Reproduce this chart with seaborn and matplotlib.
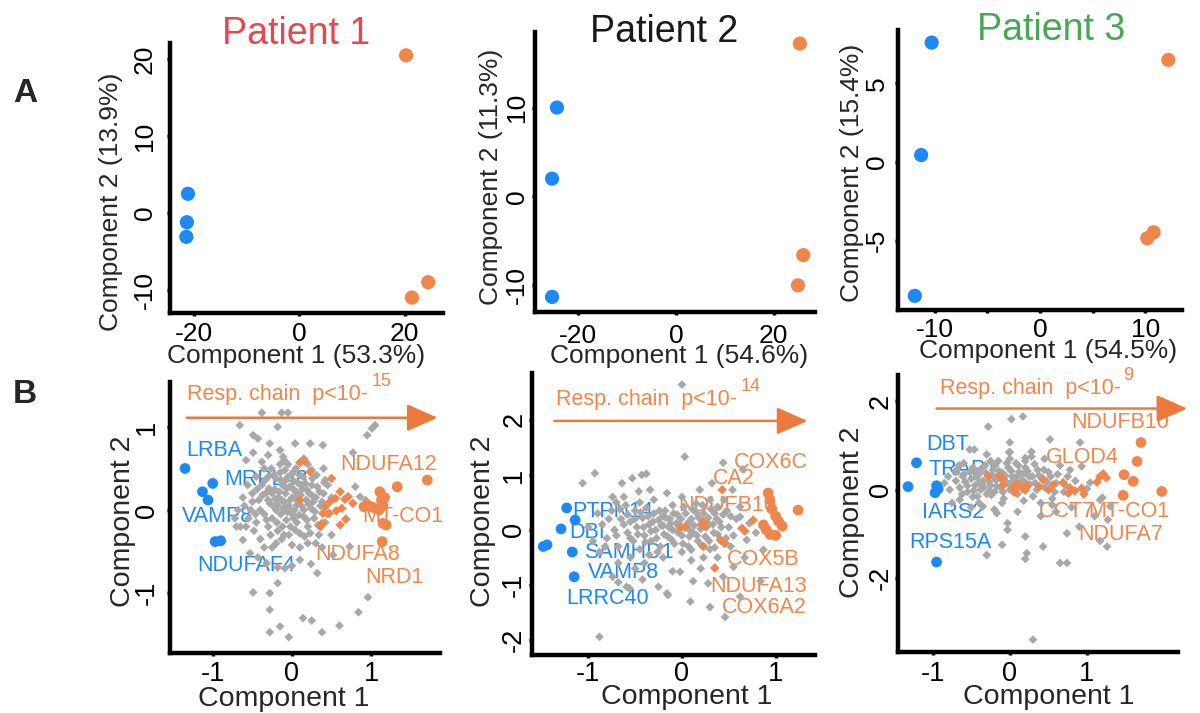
import matplotlib
matplotlib.use('Agg')
import matplotlib.pyplot as plt
import seaborn as sns

W, H = 1200, 713

BLUE = '#1E88F5'
ORANGE = '#EF874C'
ARROW = '#EC7A3E'
GRAY = '#A8A8A8'

# ---- panel A: sample PCA (component 1, component 2) ----
a1_blue_x = [-21.1, -21.3, -21.4]
a1_blue_y = [2.5, -1.2, -3.1]
a1_orange_x = [20.3, 21.4, 24.5]
a1_orange_y = [20.5, -11.0, -9.0]

a2_blue_x = [-24.4, -25.4, -25.4]
a2_blue_y = [10.0, 2.0, -11.3]
a2_orange_x = [25.4, 26.1, 25.0]
a2_orange_y = [17.2, -6.6, -10.0]

a3_blue_x = [-10.3, -11.3, -11.9]
a3_blue_y = [7.6, 0.45, -8.5]
a3_orange_x = [12.2, 10.2, 10.8]
a3_orange_y = [6.5, -4.84, -4.46]

patients = ['Patient 1', 'Patient 2', 'Patient 3']
patient_colors = ['#E8474F', '#1A1A1A', '#47A756']
var1 = ['53.3%', '54.6%', '54.5%']
var2 = ['13.9%', '11.3%', '15.4%']

# ---- panel B: protein loadings ----
b1_gray = [
    (-0.38, 1.17), (-0.13, 1.17), (-0.05, 1.17), (-0.18, 1.0), (-0.66, 1.02), (1.05, 1.02),
    (1.01, 0.98), (0.95, 0.9), (-0.49, 0.9), (-0.43, 0.86), (-0.28, 0.8), (-0.15, 0.72),
    (0.04, 0.8), (0.23, 0.8), (0.39, 0.78), (-0.11, 0.64), (-0.3, 0.66), (-0.38, 0.58),
    (-0.49, 0.69), (-0.58, 0.6), (0.77, 0.69), (0.8, 0.28), (0.42, 0.36), (0.86, 0.16),
    (0.93, 0.12), (-0.7, -0.2), (-0.62, -0.36), (-0.53, -0.52), (-0.43, -0.57), (-0.32, -0.64),
    (-0.18, -0.69), (-0.09, -0.7), (0.1, -0.6), (0.32, -0.76), (0.52, -0.54), (0.73, -0.44),
    (-0.18, -0.88), (-0.49, -0.99), (-0.28, -1.0), (0.96, -1.05), (0.24, -0.65), (-0.28, -1.2),
    (0.14, -1.3), (0.25, -1.33), (-0.15, -1.4), (-0.28, -1.47), (-0.04, -1.53), (0.38, -1.47),
    (0.6, -1.39), (0.84, -1.23), (0.0, -0.67), (-0.42, 0.12), (-0.38, 0.3), (-0.35, -0.05),
    (-0.33, 0.2), (-0.3, 0.4), (-0.3, -0.2), (-0.28, 0.08), (-0.26, 0.5), (-0.25, -0.1),
    (-0.22, 0.25), (-0.2, 0.0), (-0.2, 0.38), (-0.18, -0.25), (-0.17, 0.15), (-0.15, 0.45),
    (-0.14, -0.05), (-0.12, 0.3), (-0.1, 0.1), (-0.1, -0.3), (-0.08, 0.2), (-0.07, -0.12),
    (-0.05, 0.4), (-0.04, 0.05), (-0.03, 0.28), (-0.02, -0.2), (0.0, 0.15), (0.0, -0.05),
    (0.02, 0.35), (0.03, 0.0), (0.05, 0.22), (0.06, -0.15), (0.08, 0.1), (0.1, 0.42),
    (0.1, -0.28), (0.12, 0.05), (0.13, 0.25), (0.15, -0.08), (0.17, 0.32), (0.18, 0.12),
    (0.2, -0.2), (0.22, 0.2), (0.24, 0.02), (0.26, 0.38), (0.28, -0.1), (0.3, 0.15),
    (0.32, 0.28), (0.34, -0.3), (0.36, 0.05), (0.4, 0.2), (0.42, -0.15), (-0.5, 0.2),
    (-0.55, -0.1), (-0.6, 0.05), (-0.48, -0.25), (-0.45, 0.4), (-0.65, -0.2), (-0.52, 0.0),
    (-0.4, -0.35), (0.45, 0.3), (0.5, -0.3), (-0.15, 0.55), (0.05, 0.5), (0.25, 0.48),
    (-0.35, -0.45), (0.0, -0.42), (0.2, -0.4), (-0.2, -0.4), (0.38, -0.45), (-0.1, 0.6),
    (0.15, 0.62), (-0.05, 0.02), (0.07, 0.18), (-0.13, 0.12), (0.02, -0.1), (-0.25, 0.2),
    (-0.4, 0.0), (-0.37, 0.18), (-0.34, 0.36), (-0.32, -0.12), (-0.29, 0.26), (-0.27, -0.3),
    (-0.24, 0.05), (-0.23, 0.42), (-0.21, 0.13), (-0.19, -0.15), (-0.16, 0.22), (-0.14, 0.36),
    (-0.12, -0.2), (-0.11, 0.02), (-0.09, 0.48), (-0.07, 0.26), (-0.06, -0.02), (-0.04, -0.3),
    (-0.02, 0.12), (0.01, 0.44), (0.02, 0.25), (0.04, -0.24), (0.06, 0.06), (0.08, 0.32),
    (0.09, -0.06), (0.11, 0.18), (0.14, 0.4), (0.15, 0.0), (0.16, -0.32), (0.19, 0.24),
    (0.21, 0.07), (0.23, -0.28), (0.25, 0.3), (0.27, 0.1), (0.29, -0.02), (0.31, 0.42),
    (0.33, -0.18), (0.35, 0.22), (0.38, 0.1), (0.41, 0.33), (-0.44, 0.25), (-0.46, -0.05),
    (-0.5, 0.1), (-0.56, 0.3), (-0.58, -0.2), (-0.62, 0.15), (-0.68, 0.0), (-0.72, -0.1),
    (-0.35, 0.5), (-0.05, 0.55), (0.2, 0.55), (0.4, 0.5), (-0.25, -0.45), (0.1, -0.45),
    (0.3, -0.4), (-0.45, -0.15), (0.45, -0.05), (0.5, 0.15), (-0.08, 0.36), (0.12, 0.3),
    (-0.18, 0.06), (0.04, 0.15), (-0.3, 0.12), (0.26, 0.17), (-0.13, -0.35), (0.19, -0.12),
]
b1_orange_small = [
    (0.1, 0.57), (0.16, 0.59), (0.23, 0.46), (0.5, 0.38), (0.1, 0.12), (0.42, 0.04),
    (0.48, 0.1), (0.55, 0.14), (0.61, 0.22), (0.67, 0.13), (0.71, 0.16), (0.77, 0.08),
    (0.56, -0.01), (0.39, -0.04), (0.47, -0.04), (0.38, -0.16), (0.36, -0.2), (0.61, -0.18),
    (0.68, -0.11), (0.63, 0.02),
]
b1_orange_big = [
    (1.71, 0.36), (1.33, 0.28), (1.11, 0.22), (1.13, 0.12), (1.17, 0.15), (0.95, 0.06),
    (1.0, 0.04), (1.05, 0.02), (1.1, 0.0), (1.15, 0.05), (1.15, -0.16), (1.19, -0.18),
    (1.14, -0.38), (0.91, 0.04),
]
b1_blue = [(-1.35, 0.5), (-1.0, 0.32), (-1.13, 0.22), (-1.06, 0.12), (-0.97, -0.38), (-0.9, -0.37)]
b1_blue_genes = [('LRBA', -1.33, 0.72), ('MRPL48', -0.85, 0.37), ('VAMP8', -1.39, -0.08),
                 ('NDUFAF4', -1.2, -0.67)]
b1_orange_genes = [('NDUFA12', 0.61, 0.55), ('MT-CO1', 0.89, -0.08), ('NDUFA8', 0.29, -0.53),
                   ('NRD1', 0.92, -0.81)]

b2_gray = [
    (0.0, 2.64), (0.03, 1.33), (0.44, 1.22), (0.65, 1.1), (-1.06, 0.85), (-0.93, 1.03),
    (-0.64, 0.85), (-0.53, 0.94), (-0.43, 1.0), (-0.38, 1.02), (-0.34, 0.73), (-0.46, 0.7),
    (-0.74, 0.6), (-0.16, 0.67), (0.19, 0.73), (0.32, 0.85), (0.54, 0.73), (0.62, 0.24),
    (0.69, -0.18), (0.67, -0.5), (0.55, -0.67), (0.44, -0.85), (0.28, -0.97), (0.12, -0.93),
    (-0.02, -0.76), (-0.16, -1.15), (-0.25, -1.03), (-0.42, -0.9), (-0.59, -1.03), (-0.74, -0.85),
    (-0.68, -0.6), (-0.5, -0.7), (0.1, -0.36), (0.23, -0.5), (0.38, -0.5), (0.52, -0.3),
    (0.72, 0.12), (0.79, -0.05), (0.38, 0.42), (0.62, 0.42), (0.87, -0.36), (0.62, -1.21),
    (0.84, -0.93), (-0.88, -1.94), (0.46, -1.58), (0.3, -1.4), (0.09, -1.3), (-0.15, -1.18),
    (-0.56, -1.06), (-0.68, -0.95), (-0.9, 0.3), (-0.85, 0.1), (-0.8, -0.15), (-0.75, 0.35),
    (-0.72, 0.0), (-0.68, -0.3), (-0.65, 0.2), (-0.6, 0.45), (-0.58, -0.05), (-0.55, 0.15),
    (-0.52, -0.2), (-0.5, 0.35), (-0.48, 0.05), (-0.45, -0.35), (-0.42, 0.22), (-0.4, -0.1),
    (-0.38, 0.4), (-0.35, 0.1), (-0.33, -0.2), (-0.3, 0.3), (-0.28, 0.0), (-0.25, 0.18),
    (-0.23, -0.3), (-0.2, 0.08), (-0.18, 0.35), (-0.15, -0.12), (-0.13, 0.2), (-0.1, 0.0),
    (-0.08, -0.25), (-0.05, 0.28), (-0.03, 0.1), (0.0, -0.1), (0.02, 0.42), (0.05, 0.05),
    (0.07, -0.3), (0.1, 0.2), (0.12, -0.05), (0.15, 0.32), (0.17, -0.2), (0.2, 0.02),
    (0.22, 0.45), (0.25, -0.12), (0.28, 0.22), (0.3, -0.35), (0.33, 0.1), (0.35, 0.3),
    (0.38, -0.08), (0.4, 0.15), (0.45, -0.25), (0.48, 0.35), (0.5, 0.05), (0.55, -0.1),
    (0.58, 0.2), (-0.95, -0.2), (-0.62, 0.6), (-0.3, 0.55), (0.0, 0.6), (0.3, 0.55),
    (-0.55, -0.5), (-0.2, -0.5), (0.1, -0.55), (-0.4, -0.6), (0.2, -0.7), (-0.1, -0.75),
    (0.45, 0.55), (-0.7, 0.5), (-1.0, 0.05), (-0.88, -0.4), (-0.12, 0.12), (0.08, 0.15),
    (-0.62, 0.1), (-0.58, 0.28), (-0.55, -0.15), (-0.5, 0.2), (-0.47, -0.08), (-0.44, 0.32),
    (-0.41, 0.05), (-0.39, -0.22), (-0.36, 0.25), (-0.33, -0.02), (-0.31, 0.15), (-0.27, -0.15),
    (-0.24, 0.35), (-0.22, 0.08), (-0.19, -0.08), (-0.17, 0.22), (-0.14, 0.05), (-0.11, -0.18),
    (-0.09, 0.3), (-0.06, 0.12), (-0.04, -0.05), (-0.01, 0.2), (0.01, -0.25), (0.04, 0.3),
    (0.06, 0.12), (0.08, -0.12), (0.11, 0.38), (0.13, 0.08), (0.16, -0.1), (0.18, 0.22),
    (0.21, -0.28), (0.23, 0.3), (0.26, 0.05), (0.29, -0.2), (0.31, 0.38), (0.34, -0.05),
    (0.37, 0.2), (0.42, 0.05), (0.44, 0.28), (0.47, -0.15), (0.52, 0.25), (-0.7, -0.1),
    (-0.78, 0.2), (-0.82, -0.3), (-0.66, 0.38), (-0.26, -0.4), (0.0, -0.4), (0.35, -0.32),
    (-0.45, 0.5), (-0.1, 0.45), (0.15, 0.48), (-0.35, -0.45), (0.08, 0.0), (-0.2, 0.25),
    (0.28, 0.12),
]
b2_orange_small = [
    (0.43, 0.73), (-0.02, 0.04), (0.03, 0.05), (0.23, 0.15), (0.25, 0.06), (0.21, 0.1),
    (0.41, -0.18), (0.46, -0.24), (0.23, -0.3), (0.35, -0.69), (0.64, 0.03), (0.67, -0.02),
    (0.76, 0.18),
]
b2_orange_big = [
    (0.92, 0.67), (0.94, 0.55), (1.24, 0.36), (0.96, 0.38), (1.0, 0.25), (1.03, 0.16),
    (1.07, 0.07), (0.87, 0.09), (0.9, 0.0), (0.94, -0.08), (1.0, -0.1),
]
b2_blue = [(-1.23, 0.4), (-1.14, 0.18), (-1.29, 0.02), (-1.17, -0.4), (-1.15, -0.85),
           (-1.44, -0.27), (-1.48, -0.3)]
b2_blue_genes = [('PTPN14', -1.17, 0.33), ('DBI', -1.2, -0.04), ('SAMHD1', -1.04, -0.4),
                 ('VAMP8', -1.0, -0.78), ('LRRC40', -1.23, -1.24)]
b2_orange_genes = [('COX6C', 0.55, 1.22), ('CA2', 0.33, 0.94), ('NDUFB10', -0.04, 0.45),
                   ('COX5B', 0.48, -0.53), ('NDUFA13', 0.3, -1.03), ('COX6A2', 0.43, -1.4)]

b3_gray = [
    (0.17, 1.66), (0.02, 1.6), (-0.28, 1.43), (-0.52, 0.91), (-0.46, 0.91), (0.0, 1.07),
    (-0.01, 0.85), (0.28, 0.86), (0.2, 0.72), (0.52, 1.14), (0.91, 1.07), (0.93, 0.53),
    (1.04, 0.16), (1.0, 0.02), (1.17, -0.23), (1.2, -0.18), (1.3, -0.38), (1.1, -0.6),
    (1.27, -0.68), (1.26, -1.29), (1.17, -1.16), (0.74, -0.99), (0.9, -0.84), (0.43, -1.29),
    (0.22, -1.44), (0.2, -1.57), (0.65, -1.66), (0.74, -1.66), (-0.3, -1.48), (-0.03, -0.91),
    (0.2, -1.06), (-0.17, -0.53), (-0.03, -0.76), (-0.35, -0.38), (-0.65, -0.23), (-0.78, 0.0),
    (-0.61, 0.3), (-0.69, 0.45), (-0.6, 0.6), (-0.45, 0.42), (-0.55, 0.09), (-0.48, -0.16),
    (0.3, -3.4), (-0.1, -1.25), (-0.7, 0.2), (-0.65, 0.05), (-0.6, 0.35), (-0.55, -0.05),
    (-0.5, 0.25), (-0.48, 0.5), (-0.45, 0.1), (-0.42, -0.15), (-0.4, 0.35), (-0.38, 0.0),
    (-0.35, 0.2), (-0.32, 0.55), (-0.3, -0.1), (-0.28, 0.3), (-0.25, 0.1), (-0.22, 0.45),
    (-0.2, -0.05), (-0.18, 0.22), (-0.15, 0.65), (-0.12, 0.05), (-0.1, 0.38), (-0.08, -0.2),
    (-0.05, 0.18), (-0.02, 0.5), (0.0, 0.0), (0.03, 0.3), (0.05, 0.12), (0.08, 0.6),
    (0.1, -0.1), (0.12, 0.4), (0.15, 0.2), (0.18, -0.25), (0.2, 0.5), (0.22, 0.05),
    (0.25, 0.3), (0.28, 0.75), (0.3, -0.15), (0.33, 0.15), (0.36, 0.45), (0.4, -0.3),
    (0.42, 0.25), (0.45, 0.05), (0.5, 0.4), (0.55, -0.2), (0.6, 0.15), (0.65, 0.55),
    (0.7, -0.05), (0.75, 0.3), (0.8, -0.4), (0.85, 0.2), (-0.75, -0.3), (-0.85, 0.15),
    (-0.2, -0.45), (0.1, -0.5), (-0.5, -0.4), (0.4, -0.6), (0.6, -0.5), (0.0, 0.85),
    (-0.3, 0.8), (0.45, 0.7), (-0.36, 0.12), (-0.16, 0.3), (-0.26, -0.02),
    (-0.58, 0.18), (-0.52, 0.4), (-0.47, -0.02), (-0.43, 0.28), (-0.4, 0.15), (-0.37, 0.48),
    (-0.34, 0.05), (-0.31, 0.38), (-0.27, 0.18), (-0.24, -0.12), (-0.22, 0.3), (-0.19, 0.55),
    (-0.17, 0.08), (-0.14, 0.42), (-0.11, 0.22), (-0.09, -0.05), (-0.06, 0.32), (-0.04, 0.6),
    (-0.01, 0.12), (0.02, 0.42), (0.04, 0.2), (0.07, -0.02), (0.09, 0.3), (0.11, 0.55),
    (0.14, 0.08), (0.17, 0.35), (0.19, 0.18), (0.23, 0.42), (0.26, 0.12), (0.29, 0.3),
    (0.32, 0.58), (0.35, 0.0), (0.38, 0.32), (0.44, 0.45), (0.48, 0.18), (0.53, 0.3),
    (0.58, -0.05), (0.62, 0.35), (-0.62, -0.1), (-0.7, 0.4), (-0.8, 0.3), (-0.66, 0.55),
    (0.0, 0.7), (-0.25, 0.65), (0.2, 0.65), (0.72, 0.1), (0.78, 0.45), (0.55, -0.35),
    (-0.4, -0.3), (-0.1, -0.3),
]
b3_orange_small = [
    (-0.13, 0.3), (-0.09, 0.1), (0.04, 0.04), (0.1, 0.13), (0.16, 0.03), (0.22, 0.1),
    (0.43, 0.23), (0.38, 0.07), (0.5, 0.0), (0.56, 0.11), (0.69, 0.16), (0.78, 0.04),
    (0.84, -0.03), (0.93, 0.03), (0.76, -0.08), (0.96, -0.1), (1.17, 0.3), (1.21, 0.36),
    (1.25, 0.27), (1.13, 0.17), (-0.09, 0.25), (0.06, -0.06), (0.2, -0.01), (-0.28, 0.3),
]
b3_orange_big = [(1.7, 1.07), (1.65, 0.64), (1.48, 0.34), (1.6, 0.19), (1.97, -0.04), (1.47, -0.13)]
b3_blue = [(-1.21, 0.61), (-1.32, 0.07), (-0.95, 0.09), (-0.97, -0.07), (-0.93, 0.02), (-0.95, -1.64)]
b3_blue_genes = [('DBT', -1.09, 1.02), ('TRAP1', -1.06, 0.45), ('IARS2', -1.14, -0.52),
                 ('RPS15A', -1.3, -1.2)]
b3_orange_genes = [('NDUFB10', 0.8, 1.52), ('GLOD4', 0.47, 0.73), ('CCT7', 0.37, -0.5),
                   ('MT-CO1', 1.01, -0.5), ('NDUFA7', 0.89, -1.02)]

resp_pvals = ['15', '14', '9']

sns.set_style('white')
plt.rcParams['font.family'] = ['Liberation Sans', 'DejaVu Sans']
plt.rcParams['axes.unicode_minus'] = False

fig = plt.figure(figsize=(W / 100, H / 100), dpi=100)


def px_axes(l, r, t, b):
    return fig.add_axes([l / W, 1 - b / H, (r - l) / W, (b - t) / H])


def style(ax, xlim, ylim, xticks, yticks, fs, xpad, ypad, xticklabels=None):
    ax.set_xlim(*xlim)
    ax.set_ylim(*ylim)
    ax.set_facecolor('white')
    for s in ['top', 'right']:
        ax.spines[s].set_visible(False)
    for s in ['left', 'bottom']:
        ax.spines[s].set_linewidth(3.2)
        ax.spines[s].set_color('black')
    ax.set_xticks(xticks)
    if xticklabels is not None:
        ax.set_xticklabels(xticklabels)
    ax.set_yticks(yticks)
    ax.tick_params(axis='both', length=2.5, width=2.5, color='black', labelsize=fs,
                   labelcolor='black', left=True, bottom=True)
    ax.tick_params(axis='x', pad=xpad)
    ax.tick_params(axis='y', pad=ypad)
    for lab in ax.get_yticklabels():
        lab.set_rotation(90)
        lab.set_va('center')
    ax.set_xlabel('')
    ax.set_ylabel('')


def ftext(x, y, s, **kw):
    fig.text(x / W, 1 - y / H, s, **kw)


# ---- panel A ----
a_rects = [(170, 443, 43, 313), (535, 815, 32, 312), (898, 1182, 30, 310)]
a_lims = [((-24.5, 27.3), (-13.0, 22.1)), ((-28.9, 28.5), (-13.0, 18.5)), ((-13.5, 13.5), (-9.4, 8.4))]
a_xticks = [[-20, 0, 20], [-20, 0, 20], [-10, -5, 0, 5, 10]]
a_xticklabels = [None, None, ['-10', '', '0', '', '10']]
a_yticks = [[-10, 0, 10, 20], [-10, 0, 10], [-5, 0, 5]]
a_ypads = [7, 2, 4]
a_xpads = [4, 6, 3]
a_data = [(a1_blue_x, a1_blue_y, a1_orange_x, a1_orange_y),
          (a2_blue_x, a2_blue_y, a2_orange_x, a2_orange_y),
          (a3_blue_x, a3_blue_y, a3_orange_x, a3_orange_y)]
a_title_x = [296, 664, 1051]
a_title_y = [34, 32, 30]
a_xlab = [(296, 356), (679, 356), (1048, 351)]
a_ylab = [(111, 202), (491, 177), (852, 173)]

for i in range(3):
    ax = px_axes(*a_rects[i])
    bx, by, ox, oy = a_data[i]
    sns.scatterplot(x=bx, y=by, ax=ax, color=BLUE, s=105, edgecolor='none', clip_on=False)
    sns.scatterplot(x=ox, y=oy, ax=ax, color=ORANGE, s=105, edgecolor='none', clip_on=False)
    style(ax, a_lims[i][0], a_lims[i][1], a_xticks[i], a_yticks[i], 19,
          a_xpads[i], a_ypads[i], a_xticklabels[i])
    ftext(a_title_x[i], a_title_y[i], patients[i], color=patient_colors[i], fontsize=27,
          ha='center', va='center')
    ftext(a_xlab[i][0], a_xlab[i][1], f'Component 1 ({var1[i]})', fontsize=19,
          ha='center', va='center')
    ftext(a_ylab[i][0], a_ylab[i][1], f'Component 2 ({var2[i]})', fontsize=19,
          ha='center', va='center', rotation=90)

# ---- panel B ----
b_rects = [(170, 440, 382, 653), (532, 815, 373, 655), (898, 1178, 375, 652)]
b_lims = [((-1.54, 1.87), (-1.72, 1.54)), ((-1.6, 1.42), (-2.27, 2.85)), ((-1.45, 2.18), (-3.68, 2.6))]
b_yticks = [[-1, 0, 1], [-2, -1, 0, 1, 2], [-2, 0, 2]]
b_ypads = [5, 1, 0.5]
b_xpads = [3, 2, 4]
b_data = [(b1_gray, b1_orange_small, b1_orange_big, b1_blue, b1_blue_genes, b1_orange_genes),
          (b2_gray, b2_orange_small, b2_orange_big, b2_blue, b2_blue_genes, b2_orange_genes),
          (b3_gray, b3_orange_small, b3_orange_big, b3_blue, b3_blue_genes, b3_orange_genes)]
b_arrows = [((-1.33, 1.11), (1.84, 1.11)), ((-1.36, 1.98), (1.34, 1.98)), ((-0.95, 1.84), (2.3, 1.84))]
b_resp = [(-1.32, 1.39), (-1.34, 2.36), (-0.91, 2.3)]
b_xlab = [(284, 699), (687, 697), (1049, 697)]
b_ylab = [(123, 521), (483, 521), (852, 512)]

for i in range(3):
    ax = px_axes(*b_rects[i])
    gray, osm, obig, blue, bgenes, ogenes = b_data[i]
    sns.scatterplot(x=[p[0] for p in gray], y=[p[1] for p in gray], ax=ax, color=GRAY,
                    marker='D', s=20, edgecolor='none', zorder=3)
    sns.scatterplot(x=[p[0] for p in osm], y=[p[1] for p in osm], ax=ax, color=ORANGE,
                    marker='D', s=24, edgecolor='none', zorder=4)
    sns.scatterplot(x=[p[0] for p in obig], y=[p[1] for p in obig], ax=ax, color=ORANGE,
                    s=60, edgecolor='none', zorder=4)
    sns.scatterplot(x=[p[0] for p in blue], y=[p[1] for p in blue], ax=ax, color=BLUE,
                    s=60, edgecolor='none', zorder=4)
    for name, gx, gy in bgenes:
        ax.text(gx, gy, name, color=BLUE, fontsize=15.5, ha='left', va='center', zorder=2)
    for name, gx, gy in ogenes:
        ax.text(gx, gy, name, color=ORANGE, fontsize=15.5, ha='left', va='center', zorder=2)
    (sx, sy), (ex, ey) = b_arrows[i]
    ax.annotate('', xy=(ex, ey), xytext=(sx, sy), annotation_clip=False,
                arrowprops=dict(arrowstyle='-|>,head_length=0.95,head_width=0.42',
                                mutation_scale=20, color=ARROW, lw=1.8, shrinkA=0, shrinkB=0))
    t = ax.text(b_resp[i][0], b_resp[i][1], 'Resp. chain  p<10-', color=ORANGE,
                fontsize=15.5, ha='left', va='center', clip_on=False)
    ax.annotate(resp_pvals[i], xy=(1.0, 0.72), xycoords=t, xytext=(2, 0),
                textcoords='offset points', color=ORANGE, fontsize=13, ha='left', va='bottom',
                annotation_clip=False)
    style(ax, b_lims[i][0], b_lims[i][1], [-1, 0, 1], b_yticks[i], 19.5,
          b_xpads[i], b_ypads[i])
    ftext(b_xlab[i][0], b_xlab[i][1], 'Component 1', fontsize=20.5, ha='center', va='center')
    ftext(b_ylab[i][0], b_ylab[i][1], 'Component 2', fontsize=20.5, ha='center', va='center',
          rotation=90)

ftext(25, 94, 'A', fontsize=24, fontweight='bold', ha='center', va='center')
ftext(25, 395, 'B', fontsize=24, fontweight='bold', ha='center', va='center')

fig.savefig('out.png', dpi=100, facecolor='white')
